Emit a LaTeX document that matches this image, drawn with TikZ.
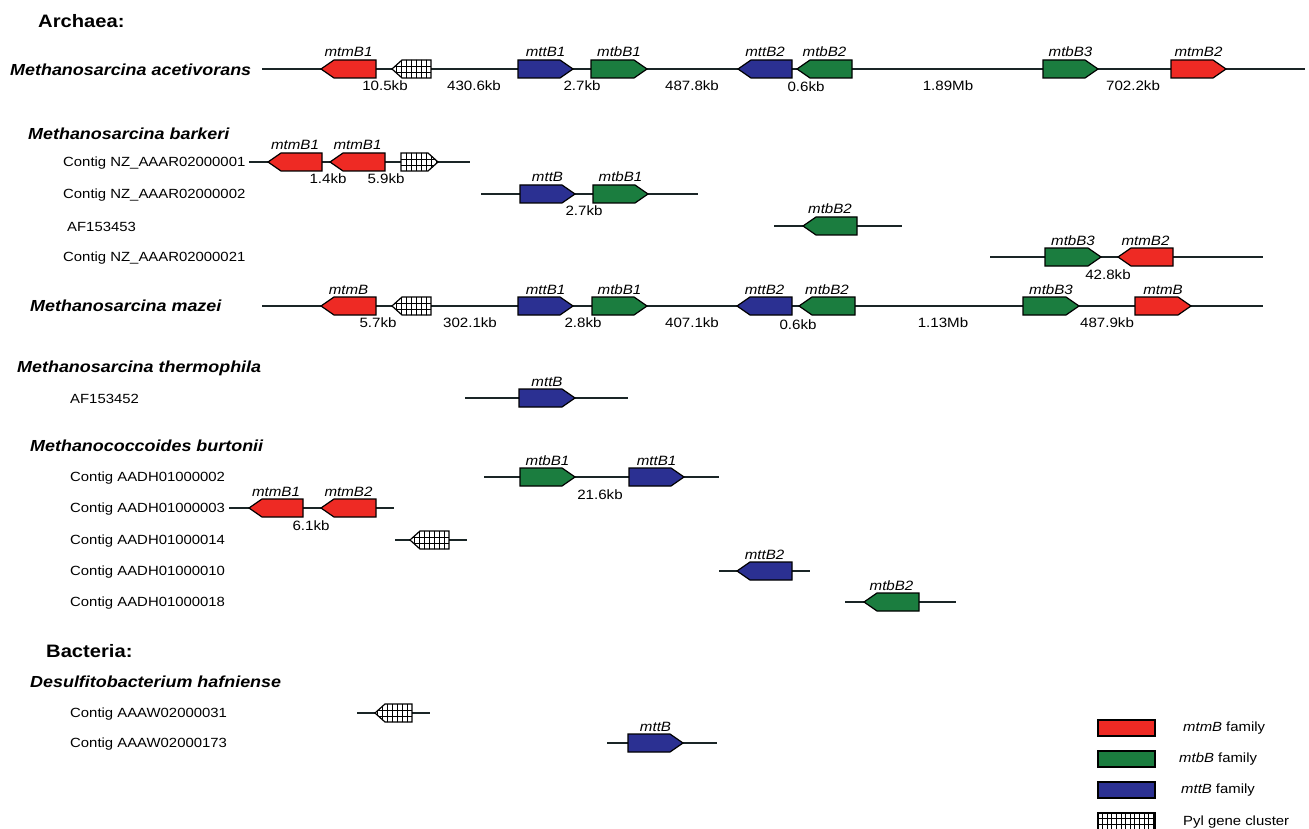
\documentclass[tikz,border=0pt]{standalone}
\usepackage{fontspec}
\setmainfont{Liberation Sans}[FakeStretch=1.12]
\definecolor{mtmc}{HTML}{EE2A24}
\definecolor{mtbc}{HTML}{1B7D3F}
\definecolor{mttc}{HTML}{2B3092}
\definecolor{bbc}{HTML}{1A2526}
\tikzset{
  x=1pt, y=-1pt,
  backbone/.style={line width=1.8pt, draw=bbc},
  genebox/.style={draw=black, line width=1.2pt, line join=miter},
  glab/.style={font=\fontsize{13.5}{15}\selectfont\itshape, inner sep=0pt, anchor=base},
  dlab/.style={font=\fontsize{13.5}{15}\selectfont, inner sep=0pt, anchor=base},
  clab/.style={font=\fontsize{13.3}{15}\selectfont, inner sep=0pt, anchor=west},
  species/.style={font=\fontsize{16}{18}\selectfont\bfseries\itshape, inner sep=0pt, anchor=west},
  domainlab/.style={font=\fontsize{18}{20}\selectfont\bfseries, inner sep=0pt, anchor=west},
  legtext/.style={font=\fontsize{13.3}{15}\selectfont, inner sep=0pt, anchor=west},
  pylgrid/.style={line width=0.8pt, draw=black}
}
% right-pointing gene: name, x1, x2, y, colour, label
\newcommand\geneR[6]{%
  \draw[genebox,fill=#5] (#2,#4-9) -- (#3-13,#4-9) -- (#3,#4) -- (#3-13,#4+9) -- (#2,#4+9) -- cycle;
  \node[glab] (#1) at ({(#2+#3)/2},#4-12) {#6};}
% left-pointing gene
\newcommand\geneL[6]{%
  \draw[genebox,fill=#5] (#2,#4) -- (#2+13,#4-9) -- (#3,#4-9) -- (#3,#4+9) -- (#2+13,#4+9) -- cycle;
  \node[glab] (#1) at ({(#2+#3)/2},#4-12) {#6};}
% Pyl cluster pointing left
\newcommand\pylL[4]{%
  \begin{scope}
    \clip (#2,#4) -- (#2+10,#4-9) -- (#3,#4-9) -- (#3,#4+9) -- (#2+10,#4+9) -- cycle;
    \fill[white] (#2,#4-10) rectangle (#3,#4+10);
    \foreach \k in {1,...,7} \draw[pylgrid] (#3-\k*5,#4-10) -- (#3-\k*5,#4+10);
    \draw[pylgrid] (#2,#4-3) -- (#3,#4-3) (#2,#4+3) -- (#3,#4+3);
  \end{scope}
  \draw[genebox] (#2,#4) -- (#2+10,#4-9) -- (#3,#4-9) -- (#3,#4+9) -- (#2+10,#4+9) -- cycle;
  \coordinate (#1) at ({(#2+#3)/2},#4);}
% Pyl cluster pointing right
\newcommand\pylR[4]{%
  \begin{scope}
    \clip (#2,#4-9) -- (#3-10,#4-9) -- (#3,#4) -- (#3-10,#4+9) -- (#2,#4+9) -- cycle;
    \fill[white] (#2,#4-10) rectangle (#3,#4+10);
    \foreach \k in {1,...,7} \draw[pylgrid] (#2+\k*5,#4-10) -- (#2+\k*5,#4+10);
    \draw[pylgrid] (#2,#4-3) -- (#3,#4-3) (#2,#4+3) -- (#3,#4+3);
  \end{scope}
  \draw[genebox] (#2,#4-9) -- (#3-10,#4-9) -- (#3,#4) -- (#3-10,#4+9) -- (#2,#4+9) -- cycle;
  \coordinate (#1) at ({(#2+#3)/2},#4);}
% backbone line between two named coordinates
\newcommand\bbline[5]{%
  \coordinate (#1) at (#3,#5);
  \coordinate (#2) at (#4,#5);
  \draw[backbone] (#1) -- (#2);}

\begin{document}
\begin{tikzpicture}
\useasboundingbox (0,0) rectangle (1309,829);
\fill[white] (0,0) rectangle (1309,829);

% ---------------- Archaea
\node[domainlab] (archaea) at (38,21) {Archaea:};

% M. acetivorans
\node[species] (acet) at (10,70) {Methanosarcina acetivorans};
\bbline{aS}{aE}{262}{1305}{69}
\geneL{a1}{321}{376}{69}{mtmc}{mtmB1}
\pylL{a2}{392}{431}{69}
\geneR{a3}{518}{573}{69}{mttc}{mttB1}
\geneR{a4}{591}{647}{69}{mtbc}{mtbB1}
\geneL{a5}{738}{792}{69}{mttc}{mttB2}
\geneL{a6}{797}{852}{69}{mtbc}{mtbB2}
\geneR{a7}{1043}{1098}{69}{mtbc}{mtbB3}
\geneR{a8}{1171}{1226}{69}{mtmc}{mtmB2}
\node[dlab] (ad1) at (385,91) {10.5kb};
\node[dlab] (ad2) at (474,91) {430.6kb};
\node[dlab] (ad3) at (582,91) {2.7kb};
\node[dlab] (ad4) at (692,91) {487.8kb};
\node[dlab] (ad5) at (806,92) {0.6kb};
\node[dlab] (ad6) at (948,91) {1.89Mb};
\node[dlab] (ad7) at (1133,91) {702.2kb};

% M. barkeri
\node[species] (bark) at (28,134) {Methanosarcina barkeri};
\node[clab] (bc1) at (63,163) {Contig NZ\_AAAR02000001};
\node[clab] (bc2) at (63,195) {Contig NZ\_AAAR02000002};
\node[clab] (bc3) at (67,227) {AF153453};
\node[clab] (bc4) at (63,258) {Contig NZ\_AAAR02000021};

\bbline{b1S}{b1E}{249}{470}{162}
\geneL{b11}{268}{322}{162}{mtmc}{mtmB1}
\geneL{b12}{330}{385}{162}{mtmc}{mtmB1}
\pylR{b13}{401}{438}{162}
\node[dlab] (b1d1) at (328,184) {1.4kb};
\node[dlab] (b1d2) at (386,184) {5.9kb};

\bbline{b2S}{b2E}{481}{698}{194}
\geneR{b21}{520}{575}{194}{mttc}{mttB}
\geneR{b22}{593}{648}{194}{mtbc}{mtbB1}
\node[dlab] (b2d1) at (584,216) {2.7kb};

\bbline{b3S}{b3E}{774}{902}{226}
\geneL{b31}{803}{857}{226}{mtbc}{mtbB2}

\bbline{b4S}{b4E}{990}{1263}{257}
\geneR{b41}{1045}{1101}{257}{mtbc}{mtbB3}
\geneL{b42}{1118}{1173}{257}{mtmc}{mtmB2}
\node[dlab] (b4d1) at (1108,279) {42.8kb};

% M. mazei
\node[species] (maz) at (30,306) {Methanosarcina mazei};
\bbline{mS}{mE}{262}{1263}{306}
\geneL{m1}{321}{376}{306}{mtmc}{mtmB}
\pylL{m2}{392}{431}{306}
\geneR{m3}{518}{573}{306}{mttc}{mttB1}
\geneR{m4}{592}{647}{306}{mtbc}{mtbB1}
\geneL{m5}{737}{792}{306}{mttc}{mttB2}
\geneL{m6}{799}{855}{306}{mtbc}{mtbB2}
\geneR{m7}{1023}{1079}{306}{mtbc}{mtbB3}
\geneR{m8}{1135}{1191}{306}{mtmc}{mtmB}
\node[dlab] (md1) at (378,327) {5.7kb};
\node[dlab] (md2) at (470,327) {302.1kb};
\node[dlab] (md3) at (583,327) {2.8kb};
\node[dlab] (md4) at (692,327) {407.1kb};
\node[dlab] (md5) at (798,329) {0.6kb};
\node[dlab] (md6) at (943,327) {1.13Mb};
\node[dlab] (md7) at (1107,327) {487.9kb};

% M. thermophila
\node[species] (therm) at (17,368) {Methanosarcina thermophila};
\node[clab] (tc1) at (70,399) {AF153452};
\bbline{tS}{tE}{465}{628}{398}
\geneR{t1}{519}{575}{398}{mttc}{mttB}

% M. burtonii
\node[species] (burt) at (30,446) {Methanococcoides burtonii};
\node[clab] (uc1) at (70,478) {Contig AADH01000002};
\node[clab] (uc2) at (70,509) {Contig AADH01000003};
\node[clab] (uc3) at (70,541) {Contig AADH01000014};
\node[clab] (uc4) at (70,572) {Contig AADH01000010};
\node[clab] (uc5) at (70,603) {Contig AADH01000018};

\bbline{u1S}{u1E}{484}{719}{477}
\geneR{u11}{520}{575}{477}{mtbc}{mtbB1}
\geneR{u12}{629}{684}{477}{mttc}{mttB1}
\node[dlab] (u1d1) at (600,499) {21.6kb};

\bbline{u2S}{u2E}{229}{394}{508}
\geneL{u21}{249}{303}{508}{mtmc}{mtmB1}
\geneL{u22}{321}{376}{508}{mtmc}{mtmB2}
\node[dlab] (u2d1) at (311,530) {6.1kb};

\bbline{u3S}{u3E}{395}{467}{540}
\pylL{u31}{410}{449}{540}

\bbline{u4S}{u4E}{719}{810}{571}
\geneL{u41}{737}{792}{571}{mttc}{mttB2}

\bbline{u5S}{u5E}{845}{956}{602}
\geneL{u51}{864}{919}{602}{mtbc}{mtbB2}

% ---------------- Bacteria
\node[domainlab] (bact) at (46,651) {Bacteria:};
\node[species] (desulf) at (30,682) {Desulfitobacterium hafniense};
\node[clab] (dc1) at (70,714) {Contig AAAW02000031};
\node[clab] (dc2) at (70,744) {Contig AAAW02000173};

\bbline{d1S}{d1E}{357}{430}{713}
\pylL{d11}{375}{412}{713}

\bbline{d2S}{d2E}{607}{717}{743}
\geneR{d21}{628}{683}{743}{mttc}{mttB}

% ---------------- Legend
\draw[genebox,fill=mtmc] (1098,720) rectangle (1155,736);
\draw[genebox,fill=mtbc] (1098,751) rectangle (1155,767);
\draw[genebox,fill=mttc] (1098,782) rectangle (1155,798);
\begin{scope}
  \clip (1098,813) rectangle (1155,829);
  \fill[white] (1098,813) rectangle (1155,831);
  \foreach \k in {1,...,12} \draw[pylgrid] (1098+\k*4.6,813) -- (1098+\k*4.6,831);
  \draw[pylgrid] (1098,818.5) -- (1155,818.5) (1098,824) -- (1155,824);
\end{scope}
\draw[genebox] (1098,831) -- (1098,813) -- (1155,813) -- (1155,831);
\node[legtext] (l1) at (1183,728) {\textit{mtmB} family};
\node[legtext] (l2) at (1179,759) {\textit{mtbB} family};
\node[legtext] (l3) at (1181,790) {\textit{mttB} family};
\node[legtext] (l4) at (1183,822) {Pyl gene cluster};
\end{tikzpicture}
\end{document}
